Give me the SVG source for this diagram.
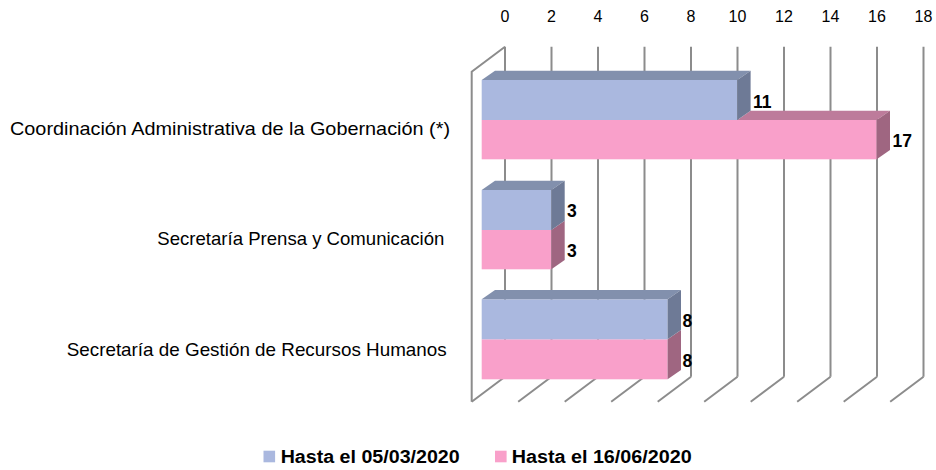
<svg xmlns="http://www.w3.org/2000/svg" width="936" height="470" viewBox="0 0 936 470">
<style>
.grid{stroke:#8c8c8c;stroke-width:2;fill:none}
.ax{font-family:"Liberation Sans",Arial,sans-serif;font-size:16px;fill:#000;text-anchor:middle}
.cat{font-family:"Liberation Sans",Arial,sans-serif;font-size:18.5px;fill:#000}
.val{font-family:"Liberation Sans",Arial,sans-serif;font-size:17.5px;font-weight:bold;fill:#000}
.leg{font-family:"Liberation Sans",Arial,sans-serif;font-size:18px;font-weight:bold;fill:#000}
.bf{fill:#aab8df}.bt{fill:#8290ad}.bs{fill:#6e7a96}
.pf{fill:#f9a0ca}.pt{fill:#bd7b9b}.ps{fill:#9f6681}
</style>
<rect width="936" height="470" fill="#fff"/>
<g id="axis">
<g class="ax">
<text x="505" y="21.5">0</text>
<text x="551.5" y="21.5">2</text>
<text x="598" y="21.5">4</text>
<text x="644.5" y="21.5">6</text>
<text x="691" y="21.5">8</text>
<text x="737.5" y="21.5">10</text>
<text x="784" y="21.5">12</text>
<text x="830.5" y="21.5">14</text>
<text x="877" y="21.5">16</text>
<text x="923.5" y="21.5">18</text>
</g>
<g class="grid">
<path d="M471.7,401.7V71.7L505,46.7"/>
<path d="M505,46.7V376.7M551.5,46.7V376.7M598,46.7V376.7M644.5,46.7V376.7M691,46.7V376.7M737.5,46.7V376.7M784,46.7V376.7M830.5,46.7V376.7M877,46.7V376.7M923.5,46.7V376.7"/>
<path d="M471.7,401.7L505,376.7M518.2,401.7L551.5,376.7M564.7,401.7L598,376.7M611.2,401.7L644.5,376.7M657.7,401.7L691,376.7M704.2,401.7L737.5,376.7M750.7,401.7L784,376.7M797.2,401.7L830.5,376.7M843.7,401.7L877,376.7M890.2,401.7L923.5,376.7"/>
</g>
</g>
<g id="cat-labels">
<text class="cat" x="10" y="134.7" textLength="440" lengthAdjust="spacingAndGlyphs">Coordinación Administrativa de la Gobernación (*)</text>
<text class="cat" x="157.3" y="245.3" textLength="287" lengthAdjust="spacingAndGlyphs">Secretaría Prensa y Comunicación</text>
<text class="cat" x="66.7" y="355.7" textLength="380" lengthAdjust="spacingAndGlyphs">Secretaría de Gestión de Recursos Humanos</text>
</g>
<g id="group1">
<rect class="pf" x="481.7" y="120" width="395" height="39.3"/>
<polygon class="pt" points="737.3,120 750.6,110.7 890,110.7 876.7,120"/>
<polygon class="ps" points="876.7,120 890,110.7 890,150 876.7,159.3"/>
<rect class="bf" x="481.7" y="80" width="255.6" height="40"/>
<polygon class="bt" points="481.7,80 495,70.7 750.6,70.7 737.3,80"/>
<polygon class="bs" points="737.3,80 750.6,70.7 750.6,110.7 737.3,120"/>
<text class="val" x="753" y="107.5">11</text>
<text class="val" x="892.5" y="147.3">17</text>
</g>
<g id="group2">
<rect class="pf" x="481.7" y="230" width="69.7" height="39.3"/>
<polygon class="ps" points="551.4,230 564.7,220.7 564.7,260 551.4,269.3"/>
<rect class="bf" x="481.7" y="190" width="69.7" height="40"/>
<polygon class="bt" points="481.7,190 495,180.7 564.7,180.7 551.4,190"/>
<polygon class="bs" points="551.4,190 564.7,180.7 564.7,220.7 551.4,230"/>
<text class="val" x="567" y="216.7">3</text>
<text class="val" x="567" y="257.3">3</text>
</g>
<g id="group3">
<rect class="pf" x="481.7" y="339.3" width="185.9" height="40"/>
<polygon class="ps" points="667.6,339.3 681,330 681,370 667.6,379.3"/>
<rect class="bf" x="481.7" y="299.3" width="185.9" height="40"/>
<polygon class="bt" points="481.7,299.3 495,290 681,290 667.6,299.3"/>
<polygon class="bs" points="667.6,299.3 681,290 681,330 667.6,339.3"/>
<text class="val" x="682.5" y="326.7">8</text>
<text class="val" x="682.5" y="366.7">8</text>
</g>
<g id="legend">
<rect class="bf" x="263.5" y="450.7" width="11.6" height="11.6"/>
<text class="leg" x="280.7" y="462.7" textLength="179" lengthAdjust="spacingAndGlyphs">Hasta el 05/03/2020</text>
<rect class="pf" x="495" y="450.7" width="11.6" height="11.6"/>
<text class="leg" x="511.7" y="462.7" textLength="180" lengthAdjust="spacingAndGlyphs">Hasta el 16/06/2020</text>
</g>
</svg>
